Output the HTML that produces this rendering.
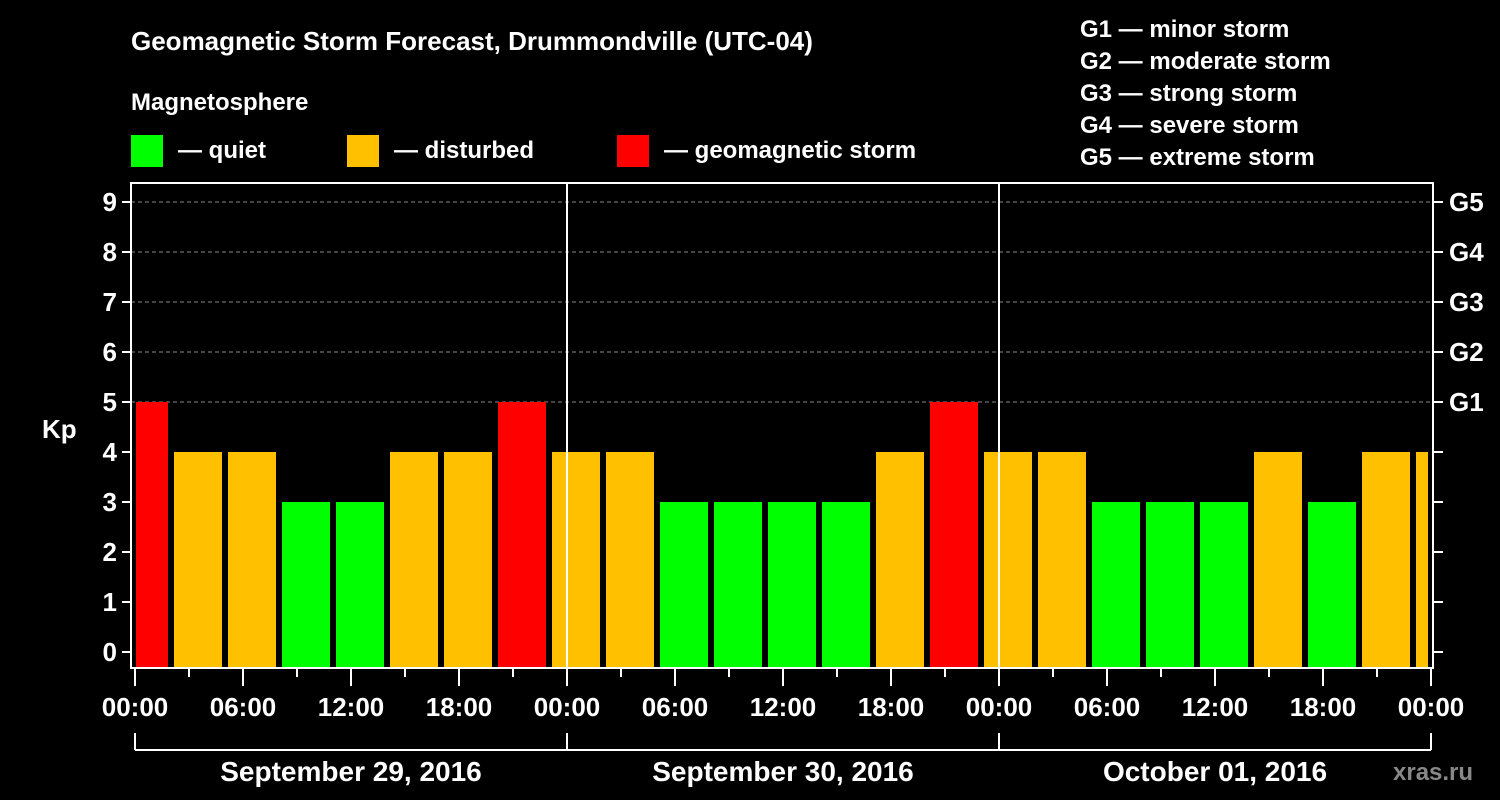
<!DOCTYPE html>
<html><head><meta charset="utf-8"><style>
html,body{margin:0;padding:0;background:#000;}
svg{display:block;font-family:"Liberation Sans",Arial,sans-serif;font-weight:bold;}
</style></head><body>
<svg id="chart" width="1500" height="800" viewBox="0 0 1500 800" xmlns="http://www.w3.org/2000/svg">
<rect width="1500" height="800" fill="#000"/>
<text x="131" y="50" fill="#fff" font-size="26">Geomagnetic Storm Forecast, Drummondville (UTC-04)</text>
<text x="131" y="110" fill="#fff" font-size="24">Magnetosphere</text>
<g><rect x="131" y="135" width="32" height="32" fill="#00ff00"/><text x="178" y="158" fill="#fff" font-size="24">— quiet</text></g>
<g><rect x="347" y="135" width="32" height="32" fill="#ffc000"/><text x="394" y="158" fill="#fff" font-size="24">— disturbed</text></g>
<g><rect x="617" y="135" width="32" height="32" fill="#ff0000"/><text x="664" y="158" fill="#fff" font-size="24">— geomagnetic storm</text></g>
<g fill="#fff" font-size="24">
<text x="1080" y="37">G1 — minor storm</text>
<text x="1080" y="69">G2 — moderate storm</text>
<text x="1080" y="101">G3 — strong storm</text>
<text x="1080" y="133">G4 — severe storm</text>
<text x="1080" y="165">G5 — extreme storm</text>
</g>
<g id="grid"></g>
<g id="bars"></g>
<g id="axes"></g>
<text x="42" y="438" fill="#fff" font-size="26">Kp</text>
<text x="1393" y="780" fill="#888" font-size="24">xras.ru</text>
</svg>
<script>
const kpValues = [5,4,4,3,3,4,4,5, 4,4,3,3,3,3,4,5, 4,4,3,3,3,4,3,4,4];
const yTicks = [0,1,2,3,4,5,6,7,8,9];
const gLabels = ['G1','G2','G3','G4','G5'];
const gLevels = [5,6,7,8,9];
const hourLabels = ['00:00','06:00','12:00','18:00'];
const dayLabels = ['September 29, 2016','September 30, 2016','October 01, 2016'];
const slotStartHour = -1;

const NS='http://www.w3.org/2000/svg';
const X0=135, PX_H=18, LEFT=131, RIGHT=1433, TOP=183, BOT=668;
const xOf=h=>X0+h*PX_H;
const yOf=v=>652-v*50;
function mk(tag,attrs,parent){const e=document.createElementNS(NS,tag);for(const k in attrs)e.setAttribute(k,attrs[k]);parent.appendChild(e);return e;}
const grid=document.getElementById('grid'),bars=document.getElementById('bars'),axes=document.getElementById('axes');

yTicks.forEach(v=>{
  if(v>=5){const l=mk('line',{x1:LEFT,x2:RIGHT,y1:yOf(v),y2:yOf(v),stroke:'#888','stroke-dasharray':'4,3','stroke-width':1},grid);
  
  }
  const t=mk('line',{x1:LEFT-9,x2:LEFT,y1:yOf(v),y2:yOf(v),stroke:'#fff','stroke-width':2},axes);
  
  
  const r=mk('line',{x1:RIGHT,x2:RIGHT+10,y1:yOf(v),y2:yOf(v),stroke:'#fff','stroke-width':2},axes);
  
  
  const tx=mk('text',{x:LEFT-14,y:yOf(v)+9,fill:'#fff','font-size':26,'text-anchor':'end'},axes);
  tx.textContent=v;
  
  
});
gLabels.forEach((g,i)=>{
  const tx=mk('text',{x:RIGHT+16,y:yOf(gLevels[i])+9,fill:'#fff','font-size':26},axes);
  tx.textContent=g;
  
  
});

kpValues.forEach((v,i)=>{
  let x1=xOf(slotStartHour+i*3)+3, x2=xOf(slotStartHour+i*3+3)-3;
  x1=Math.max(x1,LEFT+5); x2=Math.min(x2,RIGHT-5);
  const c=v>=5?'#ff0000':(v>=4?'#ffc000':'#00ff00');
  const r=mk('rect',{x:x1,y:yOf(v),width:x2-x1,height:BOT-1-yOf(v),fill:c},bars);
  
  
});

// day separators
[1,2].forEach(d=>{
  const l=mk('line',{x1:xOf(d*24),x2:xOf(d*24),y1:TOP,y2:BOT,stroke:'#fff','stroke-width':2},axes);
  
  
});
const fr=mk('rect',{x:LEFT,y:TOP,width:RIGHT-LEFT,height:BOT-TOP,fill:'none',stroke:'#fff','stroke-width':2},axes);



for(let h=0;h<=72;h+=3){
  const major=h%6===0;
  const t=mk('line',{x1:xOf(h),x2:xOf(h),y1:BOT,y2:BOT+(major?18:9),stroke:'#fff','stroke-width':2},axes);
  
  
  if(major && h%24!==0 || h%24===0){
    const lab=h===72?'00:00':hourLabels[(h%24)/6];
    const tx=mk('text',{x:xOf(h),y:716,fill:'#fff','font-size':26,'text-anchor':'middle'},axes);
    tx.textContent=lab;
    
    
  }
}
const br=mk('line',{x1:xOf(0),x2:xOf(72),y1:750,y2:750,stroke:'#fff','stroke-width':2},axes);


for(let d=0;d<=3;d++){
  const l=mk('line',{x1:xOf(d*24),x2:xOf(d*24),y1:733,y2:750,stroke:'#fff','stroke-width':2},axes);
  
  
}
dayLabels.forEach((d,i)=>{
  const tx=mk('text',{x:xOf(i*24+12),y:781,fill:'#fff','font-size':28,'text-anchor':'middle'},axes);
  tx.textContent=d;
  
  
});
</script>
</body></html>
